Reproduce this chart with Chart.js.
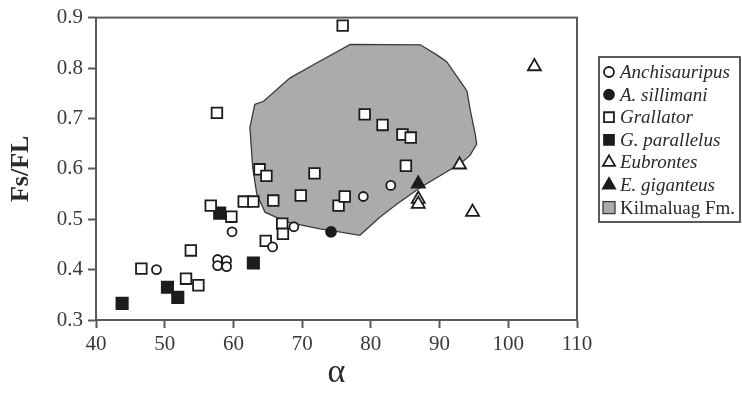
<!DOCTYPE html>
<html>
<head>
<meta charset="utf-8">
<script src="https://cdn.jsdelivr.net/npm/chart.js@4/dist/chart.umd.min.js"></script>
<style>
  body { margin: 0; background: #fff; }
  #wrap { width: 742px; height: 405px; }
</style>
</head>
<body>
<div id="wrap"><canvas id="c" width="742" height="405"></canvas></div>
<script>
// values (alpha, Fs/FL)
const anchX = [48.8, 57.7, 57.7, 59.0, 59.0, 59.8, 65.7, 68.8, 78.9, 82.9];
const anchY = [0.400, 0.420, 0.408, 0.418, 0.406, 0.475, 0.445, 0.485, 0.545, 0.567];

const sillX = [74.2];
const sillY = [0.475];

const grallX = [46.6, 53.1, 54.9, 53.8, 56.7, 59.7, 57.6, 61.5, 62.9, 63.8, 64.8, 65.8, 64.7,
                67.1, 67.2, 69.8, 71.8, 75.3, 76.2, 75.9, 79.1, 81.7, 84.6, 85.8, 85.1];
const grallY = [0.402, 0.382, 0.369, 0.438, 0.527, 0.505, 0.711, 0.535, 0.535, 0.599, 0.586, 0.537, 0.457,
                0.491, 0.471, 0.547, 0.591, 0.527, 0.545, 0.884, 0.708, 0.687, 0.668, 0.662, 0.606];

const paralX = [43.8, 50.4, 51.9, 58.0, 62.9];
const paralY = [0.333, 0.365, 0.345, 0.512, 0.413];

const eubX = [103.8, 92.9, 86.9, 86.9, 94.8];
const eubY = [0.803, 0.608, 0.540, 0.530, 0.514];

const gigX = [86.9];
const gigY = [0.570];

// outline of the Kilmaluag Fm. field
const kilX = [63.1, 64.4, 68.2, 72.1, 77.0, 87.2, 89.6, 91.0, 93.0, 94.0, 94.4, 95.2, 95.4, 94.4, 93.0,
              87.2, 83.8, 81.3, 78.4, 74.1, 72.6, 67.8, 64.6, 63.4, 62.8, 62.4, 63.1];
const kilY = [0.728, 0.734, 0.780, 0.810, 0.847, 0.846, 0.826, 0.813, 0.774, 0.754, 0.721, 0.668, 0.649, 0.626, 0.610,
              0.563, 0.530, 0.504, 0.468, 0.478, 0.481, 0.494, 0.514, 0.550, 0.603, 0.682, 0.728];

const xTicks = [40, 50, 60, 70, 80, 90, 100, 110];
const yTicks = [0.3, 0.4, 0.5, 0.6, 0.7, 0.8, 0.9];

const legendNames = ['Anchisauripus', 'A. sillimani', 'Grallator', 'G. parallelus',
                     'Eubrontes', 'E. giganteus', 'Kilmaluag Fm.'];

const INK = '#1c1c1c';
const AXIS = '#5a5a5a';

function pts(xs, ys) {
    return xs.map((x, i) => ({ x: x, y: ys[i] }));
}

function marker(label, xs, ys, style, filled, r) {
    return {
        label: label,
        data: pts(xs, ys),
        pointStyle: style,
        pointRadius: r,
        pointBackgroundColor: filled ? INK : '#fff',
        pointBorderColor: INK,
        pointBorderWidth: 1.8,
        showLine: false,
        order: 0
    };
}

const datasets = [
    marker(legendNames[0], anchX, anchY, 'circle', false, 4.5),
    marker(legendNames[1], sillX, sillY, 'circle', true, 5),
    marker(legendNames[2], grallX, grallY, 'rect', false, 7.5),
    marker(legendNames[3], paralX, paralY, 'rect', true, 8),
    marker(legendNames[4], eubX, eubY, 'triangle', false, 7.5),
    marker(legendNames[5], gigX, gigY, 'triangle', true, 7.5),
    {
        label: legendNames[6],
        data: pts(kilX, kilY),
        showLine: true,
        fill: 'shape',
        backgroundColor: '#ababab',
        borderColor: '#3a3a3a',
        borderWidth: 1.3,
        pointRadius: 0,
        tension: 0,
        order: 5
    }
];

// box around the plot
const frame = {
    id: 'frame',
    afterDraw(chart) {
        const a = chart.chartArea;
        const ctx = chart.ctx;
        ctx.save();
        ctx.strokeStyle = AXIS;
        ctx.lineWidth = 2;
        ctx.strokeRect(a.left, a.top, a.right - a.left, a.bottom - a.top);
        ctx.restore();
    }
};

// legend box on the right, italic names except the formation
const boxLegend = {
    id: 'boxLegend',
    afterDraw(chart) {
        const ctx = chart.ctx;
        ctx.save();
        ctx.strokeStyle = AXIS;
        ctx.lineWidth = 2;
        ctx.strokeRect(599, 57, 141, 165);
        ctx.textBaseline = 'middle';
        chart.data.datasets.forEach((ds, i) => {
            const y = 72 + i * 22.6;
            const mx = 609;
            if (i === 6) {
                ctx.fillStyle = '#ababab';
                ctx.strokeStyle = '#3a3a3a';
                ctx.lineWidth = 1.3;
                ctx.fillRect(mx - 6, y - 6, 12, 12);
                ctx.strokeRect(mx - 6, y - 6, 12, 12);
            } else {
                ctx.fillStyle = ds.pointBackgroundColor;
                ctx.strokeStyle = ds.pointBorderColor;
                ctx.lineWidth = ds.pointBorderWidth;
                Chart.helpers.drawPoint(ctx, {
                    pointStyle: ds.pointStyle,
                    radius: ds.pointStyle === 'circle' ? 5 : 7,
                    rotation: 0,
                    borderWidth: ds.pointBorderWidth
                }, mx, y);
            }
            ctx.fillStyle = '#2a2a2a';
            ctx.font = (i === 6 ? '' : 'italic ') + '19px "Liberation Serif", serif';
            ctx.fillText(ds.label, 620, y + 1);
        });
        ctx.restore();
    }
};

new Chart(document.getElementById('c'), {
    type: 'scatter',
    data: { datasets: datasets },
    options: {
        responsive: false,
        devicePixelRatio: 1,
        animation: false,
        layout: { padding: { top: 16, right: 165, left: 0, bottom: 0 } },
        plugins: {
            legend: { display: false },
            tooltip: { enabled: false }
        },
        scales: {
            x: {
                type: 'linear',
                min: 40,
                max: 110,
                afterFit: (s) => { s.height = 85; },
                afterBuildTicks: (s) => { s.ticks = xTicks.map(v => ({ value: v })); },
                ticks: {
                    padding: 4,
                    color: '#3a3a3a',
                    font: { family: '"Liberation Serif", serif', size: 21 }
                },
                grid: { drawOnChartArea: false, tickLength: 8, tickColor: AXIS, tickWidth: 2 },
                border: { color: AXIS, width: 2 },
                title: {
                    display: true,
                    text: 'α',
                    color: '#2a2a2a',
                    padding: { top: 0, bottom: 12 },
                    font: { family: '"Liberation Serif", serif', size: 34 }
                }
            },
            y: {
                type: 'linear',
                min: 0.3,
                max: 0.9,
                afterFit: (s) => { s.width = 96; },
                afterBuildTicks: (s) => { s.ticks = yTicks.map(v => ({ value: v })); },
                ticks: {
                    padding: 5,
                    color: '#3a3a3a',
                    callback: (v) => v.toFixed(1),
                    font: { family: '"Liberation Serif", serif', size: 21 }
                },
                grid: { drawOnChartArea: false, tickLength: 8, tickColor: AXIS, tickWidth: 2 },
                border: { color: AXIS, width: 2 },
                title: {
                    display: true,
                    text: 'Fs/FL',
                    color: '#2a2a2a',
                    padding: { top: 6, bottom: 0 },
                    font: { family: '"Liberation Serif", serif', size: 26, weight: 'bold' }
                }
            }
        }
    },
    plugins: [frame, boxLegend]
});
</script>
</body>
</html>
